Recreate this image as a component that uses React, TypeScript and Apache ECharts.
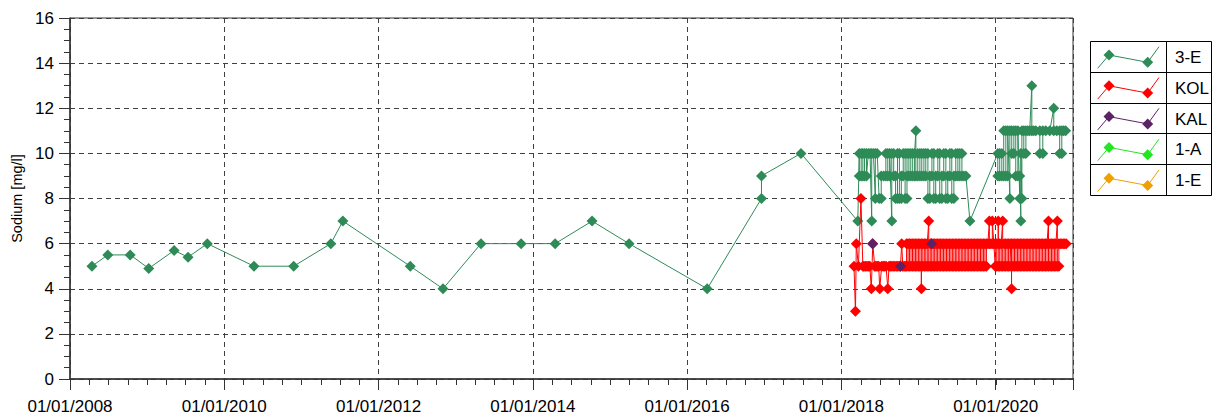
import React, { useEffect, useRef } from 'react';
import * as echarts from 'echarts';

// ---- Data ----
// Each entry: [sampling date, reading(s) taken on that date in order]
type Row = [string, ...number[]];

const seriesNames = ['3-E', 'KOL', 'KAL', '1-A', '1-E'];
const seriesColors = ['#2e8b57', '#ff0000', '#5c2266', '#22e622', '#f0a000'];

const yMin = 0;
const yMax = 16;
const yStep = 2;
const xStartDate = '2008-01-01';
const xEndDate = '2021-01-01';

const e3Data: Row[] = [
  ['2008-04-14', 5], ['2008-06-28', 5.5], ['2008-10-12', 5.5], ['2009-01-08', 4.9],
  ['2009-05-08', 5.7], ['2009-07-13', 5.4], ['2009-10-12', 6], ['2010-05-21', 5],
  ['2010-11-25', 5], ['2011-05-20', 6], ['2011-07-16', 7], ['2012-05-30', 5],
  ['2012-11-01', 4], ['2013-04-30', 6], ['2013-11-06', 6], ['2014-04-16', 6],
  ['2014-10-08', 7], ['2015-04-01', 6], ['2016-04-05', 4], ['2016-12-18', 8, 9],
  ['2017-06-23', 10],
  ['2018-03-19', 7], ['2018-03-26', 10, 9], ['2018-04-04', 9, 10], ['2018-04-12', 10, 9],
  ['2018-04-20', 9, 10], ['2018-04-29', 10, 9], ['2018-05-08', 10], ['2018-05-16', 10],
  ['2018-05-24', 7, 10], ['2018-06-01', 10], ['2018-06-10', 8, 10], ['2018-06-19', 10],
  ['2018-06-28', 8], ['2018-07-08', 8, 9], ['2018-07-20', 9], ['2018-07-30', 9, 10],
  ['2018-08-08', 10, 9], ['2018-08-17', 9, 10], ['2018-08-27', 7, 10], ['2018-09-05', 10, 9],
  ['2018-09-14', 9, 8], ['2018-09-23', 8, 10], ['2018-10-02', 10, 8], ['2018-10-11', 8, 9],
  ['2018-10-20', 9, 10], ['2018-10-29', 10, 8], ['2018-11-07', 8, 9, 10], ['2018-11-16', 10, 9],
  ['2018-11-25', 9, 10], ['2018-12-04', 10, 9], ['2018-12-13', 9, 10], ['2018-12-19', 11, 9],
  ['2018-12-28', 9, 10], ['2019-01-07', 10, 9], ['2019-01-16', 9, 10], ['2019-01-26', 10, 9],
  ['2019-02-04', 9, 10], ['2019-02-14', 10, 8], ['2019-02-23', 8, 9], ['2019-03-05', 9, 10],
  ['2019-03-14', 10, 8], ['2019-03-23', 8, 9], ['2019-04-02', 9, 10], ['2019-04-11', 10, 8],
  ['2019-04-21', 8, 9], ['2019-04-30', 9, 10], ['2019-05-10', 10, 8], ['2019-05-19', 8, 9],
  ['2019-05-29', 9, 10], ['2019-06-07', 10, 8], ['2019-06-17', 8, 9], ['2019-06-26', 9, 10],
  ['2019-07-06', 10, 9], ['2019-07-15', 9, 10], ['2019-07-25', 10, 9], ['2019-08-03', 9],
  ['2019-08-13', 9], ['2019-09-01', 7],
  ['2020-01-11', 10, 9], ['2020-01-20', 9, 10], ['2020-01-30', 10, 9], ['2020-02-08', 9, 11],
  ['2020-02-18', 11, 9], ['2020-02-27', 9, 11], ['2020-03-08', 8, 11], ['2020-03-17', 11, 10],
  ['2020-03-27', 10, 11], ['2020-04-05', 11, 9], ['2020-04-15', 9, 11], ['2020-04-24', 8, 9],
  ['2020-04-29', 7, 10], ['2020-05-04', 8, 11], ['2020-05-13', 11, 10], ['2020-05-23', 10, 11],
  ['2020-06-01', 11], ['2020-06-10', 11], ['2020-06-20', 13, 11], ['2020-06-29', 11],
  ['2020-07-09', 11], ['2020-07-28', 11, 10], ['2020-08-11', 10, 11], ['2020-08-25', 11],
  ['2020-09-13', 11], ['2020-10-02', 12, 11], ['2020-10-16', 11], ['2020-10-30', 11, 10],
  ['2020-11-09', 10, 11], ['2020-11-18', 11], ['2020-11-27', 11],
];

const kolData: Row[] = [
  ['2018-03-01', 5], ['2018-03-08', 3], ['2018-03-12', 6], ['2018-03-22', 5],
  ['2018-04-03', 8], ['2018-04-12', 5], ['2018-04-17', 5], ['2018-04-24', 5],
  ['2018-05-01', 5], ['2018-05-08', 5], ['2018-05-15', 5], ['2018-05-22', 4],
  ['2018-05-29', 6], ['2018-06-07', 5], ['2018-06-13', 5], ['2018-06-19', 5],
  ['2018-06-26', 5], ['2018-07-01', 4], ['2018-07-10', 5], ['2018-07-17', 5],
  ['2018-07-24', 5], ['2018-07-31', 5], ['2018-08-08', 4], ['2018-08-14', 5],
  ['2018-08-20', 5], ['2018-08-27', 5], ['2018-09-03', 5], ['2018-09-10', 5],
  ['2018-09-17', 5], ['2018-09-24', 5], ['2018-10-01', 5], ['2018-10-07', 5],
  ['2018-10-13', 6], ['2018-10-18', 5], ['2018-10-24', 5], ['2018-10-30', 5],
  ['2018-11-05', 5, 6], ['2018-11-12', 6, 5], ['2018-11-19', 5, 6], ['2018-11-26', 6, 5],
  ['2018-12-03', 5, 6], ['2018-12-10', 6, 5], ['2018-12-17', 5, 6], ['2018-12-24', 6, 5],
  ['2018-12-31', 5, 6], ['2019-01-07', 6, 5], ['2019-01-14', 5, 4, 6], ['2019-01-21', 6, 5],
  ['2019-01-28', 5, 6], ['2019-02-04', 6, 5], ['2019-02-11', 5, 6], ['2019-02-18', 7, 5],
  ['2019-02-25', 5, 6], ['2019-03-04', 6, 5], ['2019-03-11', 5, 6], ['2019-03-18', 6, 5],
  ['2019-03-25', 5, 6], ['2019-04-01', 6, 5], ['2019-04-08', 5, 6], ['2019-04-15', 6, 5],
  ['2019-04-22', 5, 6], ['2019-04-29', 6, 5], ['2019-05-06', 5, 6], ['2019-05-13', 6, 5],
  ['2019-05-20', 5, 6], ['2019-05-27', 6, 5], ['2019-06-03', 5, 6], ['2019-06-10', 6, 5],
  ['2019-06-17', 5, 6], ['2019-06-24', 6, 5], ['2019-07-01', 5, 6], ['2019-07-08', 6, 5],
  ['2019-07-15', 5, 6], ['2019-07-22', 6, 5], ['2019-07-29', 5, 6], ['2019-08-05', 6, 5],
  ['2019-08-12', 5, 6], ['2019-08-19', 6, 5], ['2019-08-26', 5, 6], ['2019-09-02', 6, 5],
  ['2019-09-09', 5, 6], ['2019-09-16', 6, 5], ['2019-09-23', 5, 6], ['2019-09-30', 6, 5],
  ['2019-10-07', 5, 6], ['2019-10-14', 6, 5], ['2019-10-21', 5, 6], ['2019-10-28', 6, 5],
  ['2019-11-04', 5, 6], ['2019-11-11', 6, 5], ['2019-11-18', 5, 6], ['2019-11-25', 6],
  ['2019-12-02', 7, 6], ['2019-12-09', 6], ['2019-12-16', 6, 7], ['2019-12-23', 6],
  ['2019-12-30', 5, 6], ['2020-01-06', 6, 5], ['2020-01-13', 5, 7, 6], ['2020-01-20', 6, 5],
  ['2020-01-27', 5, 6], ['2020-02-03', 7, 5], ['2020-02-10', 5, 6], ['2020-02-17', 6, 5],
  ['2020-02-24', 5, 6], ['2020-03-02', 6, 5], ['2020-03-09', 5, 6], ['2020-03-16', 5, 4, 6],
  ['2020-03-23', 6, 5], ['2020-03-30', 5, 6], ['2020-04-06', 6, 5], ['2020-04-13', 5, 6],
  ['2020-04-20', 6, 5], ['2020-04-27', 5, 6], ['2020-05-04', 6, 5], ['2020-05-11', 5, 6],
  ['2020-05-18', 6, 5], ['2020-05-25', 5, 6], ['2020-06-01', 6, 5], ['2020-06-08', 5, 6],
  ['2020-06-15', 6, 5], ['2020-06-22', 5, 6], ['2020-06-29', 6, 5], ['2020-07-06', 5, 6],
  ['2020-07-13', 6, 5], ['2020-07-20', 5, 6], ['2020-07-27', 6, 5], ['2020-08-03', 5, 6],
  ['2020-08-10', 6, 5], ['2020-08-17', 5, 6], ['2020-08-24', 6, 5], ['2020-08-31', 5, 6],
  ['2020-09-07', 7, 5], ['2020-09-14', 5, 6], ['2020-09-21', 6, 5], ['2020-09-28', 5, 6],
  ['2020-10-05', 6, 5], ['2020-10-12', 5, 6], ['2020-10-19', 7, 5], ['2020-10-26', 5, 6],
  ['2020-11-02', 6], ['2020-11-09', 6], ['2020-11-16', 6], ['2020-11-23', 6],
  ['2020-11-30', 6],
];

const kalData: Row[] = [
  ['2018-05-28', 6], ['2018-10-08', 5], ['2019-03-04', 6],
];

const a1Data: Row[] = [];
const e1Data: Row[] = [];

// ---- Helpers ----
const DAY_MS = 86400000;
const BASE = Date.parse(xStartDate);
const toDay = (s: string) => (Date.parse(s) - BASE) / DAY_MS;
const X_MIN = 0;
const X_MAX = toDay(xEndDate);
const X_MAJOR = 730.5; // two years
const X_MINOR = X_MAX / 52; // quarterly

const FONT = '"Liberation Sans", Arial, Helvetica, sans-serif';
const AXIS_COLOR = '#333333';
const GRID_COLOR = '#404040';

const pad = (n: number) => (n < 10 ? '0' + n : '' + n);
const fmtDay = (v: number) => {
  if (Math.abs(v - X_MAX) < 1) return '';
  const d = new Date(BASE + Math.round(v) * DAY_MS);
  return pad(d.getUTCDate()) + '/' + pad(d.getUTCMonth() + 1) + '/' + d.getUTCFullYear();
};

export default function App() {
  const ref = useRef<HTMLDivElement>(null);

  useEffect(() => {
    if (!ref.current) return;
    const chart = echarts.init(ref.current, null, { renderer: 'svg' });
    const allData = [e3Data, kolData, kalData, a1Data, e1Data];

    const series = seriesNames.map((name, i) => ({
      name,
      type: 'line',
      xAxisIndex: 0,
      yAxisIndex: 0,
      data: allData[i].flatMap((row) => {
        const d = row[0] as string;
        return (row.slice(1) as number[]).map((v) => [toDay(d), v]);
      }),
      symbol: 'diamond',
      symbolSize: 11,
      showSymbol: true,
      itemStyle: { color: seriesColors[i] },
      lineStyle: { color: seriesColors[i], width: 1, opacity: name === 'KAL' ? 0 : 1 },
      z: 2 + i,
      animation: false,
    }));

    // legend table drawn as graphics
    const LX = 1090;
    const LY = 41;
    const LW = 121;
    const RH = 30.8;
    const COLX = 1166.5;
    const legendEls: any[] = [];
    legendEls.push({
      type: 'rect',
      shape: { x: LX + 0.5, y: LY + 0.5, width: LW, height: RH * seriesNames.length },
      style: { fill: '#fff', stroke: '#000', lineWidth: 1 },
      z: 100,
    });
    legendEls.push({
      type: 'line',
      shape: { x1: COLX, y1: LY, x2: COLX, y2: LY + RH * seriesNames.length },
      style: { stroke: '#000', lineWidth: 1 },
      z: 101,
    });
    seriesNames.forEach((name, i) => {
      const y0 = LY + i * RH;
      const c = seriesColors[i];
      if (i > 0) {
        legendEls.push({
          type: 'line',
          shape: { x1: LX, y1: Math.round(y0) + 0.5, x2: LX + LW, y2: Math.round(y0) + 0.5 },
          style: { stroke: '#000', lineWidth: 1 },
          z: 101,
        });
      }
      const p1 = [LX + 19, y0 + 14];
      const p2 = [LX + 57.7, y0 + 21.3];
      legendEls.push({
        type: 'polyline',
        shape: { points: [[LX + 7.7, y0 + 27.3], p1, p2, [LX + 69, y0 + 5.7]] },
        style: { stroke: c, lineWidth: 1, fill: 'none' },
        z: 102,
      });
      [p1, p2].forEach((p) => {
        const s = 5.5;
        legendEls.push({
          type: 'polygon',
          shape: { points: [[p[0], p[1] - s], [p[0] + s, p[1]], [p[0], p[1] + s], [p[0] - s, p[1]]] },
          style: { fill: c },
          z: 103,
        });
      });
      legendEls.push({
        type: 'text',
        x: 1175,
        y: y0 + RH / 2 + 1,
        style: { text: name, fill: '#000', font: '17px ' + FONT, verticalAlign: 'middle', align: 'left' },
        z: 103,
      });
    });

    chart.setOption({
      animation: false,
      backgroundColor: '#ffffff',
      textStyle: { fontFamily: FONT },
      grid: {
        left: 70,
        right: 140,
        top: 18,
        bottom: 39,
        show: true,
        borderColor: AXIS_COLOR,
        borderWidth: 1,
        backgroundColor: 'transparent',
      },
      xAxis: [
        {
          type: 'value',
          min: X_MIN,
          max: X_MAX,
          interval: X_MAJOR,
          position: 'bottom',
          axisLine: { show: true, onZero: false, lineStyle: { color: AXIS_COLOR, width: 1.5 } },
          axisTick: { show: true, length: 11, lineStyle: { color: AXIS_COLOR, width: 1 } },
          splitLine: { show: true, lineStyle: { color: GRID_COLOR, type: [5, 4], width: 1 } },
          axisLabel: {
            show: true,
            formatter: (v: number) => fmtDay(v),
            fontSize: 17,
            color: '#000',
            margin: 19,
            fontFamily: FONT,
            showMinLabel: true,
            showMaxLabel: true,
          },
        },
        {
          type: 'value',
          min: X_MIN,
          max: X_MAX,
          interval: X_MINOR,
          position: 'bottom',
          offset: 0,
          axisLine: { show: false, onZero: false },
          axisTick: { show: true, length: 6, lineStyle: { color: AXIS_COLOR, width: 1 } },
          splitLine: { show: false },
          axisLabel: { show: false },
        },
      ],
      yAxis: {
        type: 'value',
        min: yMin,
        max: yMax,
        interval: yStep,
        name: 'Sodium [mg/l]',
        nameLocation: 'middle',
        nameGap: 43,
        nameRotate: 90,
        nameTextStyle: { fontSize: 14.5, color: '#000', fontFamily: FONT },
        axisLine: { show: true, onZero: false, lineStyle: { color: AXIS_COLOR, width: 1.5 } },
        axisTick: { show: true, length: 11, lineStyle: { color: AXIS_COLOR, width: 1 } },
        minorTick: { show: true, splitNumber: 4, length: 6, lineStyle: { color: AXIS_COLOR, width: 1 } },
        splitLine: { show: true, lineStyle: { color: GRID_COLOR, type: [5, 4], width: 1 } },
        axisLabel: { fontSize: 17, color: '#000', margin: 16, fontFamily: FONT },
      },
      series,
      graphic: legendEls,
    });

    return () => {
      chart.dispose();
    };
  }, []);

  return (
    <div
      ref={ref}
      style={{ position: 'fixed', left: 0, top: 0, width: '1213px', height: '418px', background: '#fff' }}
    />
  );
}
